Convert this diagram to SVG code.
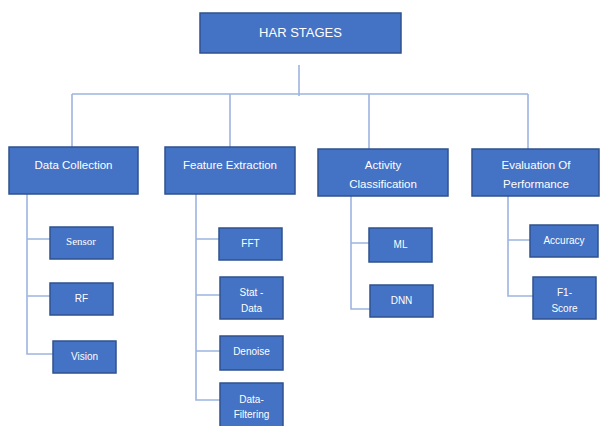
<svg xmlns="http://www.w3.org/2000/svg" width="600" height="426" viewBox="0 0 600 426">
<style>
.box{fill:#4472C4;stroke:#2F528F;stroke-width:1.5}
.t{fill:#fff;font-family:"Liberation Sans",Arial,sans-serif;text-anchor:middle;dominant-baseline:central}
.h{font-size:11.5px}
.c{font-size:10px}
.s{font-family:"Liberation Serif","Times New Roman",serif;font-size:11px}
.ln{stroke:#9DB5E0;stroke-width:1.6;fill:none}
</style>
<rect width="600" height="426" fill="#fff"/>
<g id="connectors">
<path class="ln" d="M299 65V96M72 94H528M72 94V147M230 94V147M369 94V149M528 94V149"/>
<path class="ln" d="M27 194V354H53M27 239H50M27 296H50"/>
<path class="ln" d="M196 194V400H220M196 239H219M196 295H220M196 351H220"/>
<path class="ln" d="M351 196V309H370M351 243H369"/>
<path class="ln" d="M508 196V296H533M508 240H530"/>
</g>
<g id="har"><rect class="box" x="200" y="13" width="201" height="40"/><text class="t" x="300.5" y="32" font-size="13">HAR STAGES</text></g>
<g id="data-collection"><rect class="box" x="9" y="147" width="129" height="47"/><text class="t h" x="73.5" y="165">Data Collection</text></g>
<g id="feature-extraction"><rect class="box" x="165" y="147" width="130" height="47"/><text class="t h" x="230" y="165">Feature Extraction</text></g>
<g id="activity-classification"><rect class="box" x="318" y="149" width="130" height="47"/><text class="t h" x="383" y="165">Activity</text><text class="t h" x="383" y="184">Classification</text></g>
<g id="evaluation"><rect class="box" x="472" y="149" width="127" height="47"/><text class="t h" x="536" y="165">Evaluation Of</text><text class="t h" x="536" y="184">Performance</text></g>
<g id="sensor"><rect class="box" x="50" y="227" width="63" height="32"/><text class="t s" x="81" y="241">Sensor</text></g>
<g id="rf"><rect class="box" x="50" y="283" width="63" height="32"/><text class="t c" x="81.5" y="298">RF</text></g>
<g id="vision"><rect class="box" x="53" y="341" width="63" height="32"/><text class="t c" x="84.5" y="356">Vision</text></g>
<g id="fft"><rect class="box" x="219" y="228" width="63" height="32"/><text class="t c" x="250.5" y="243">FFT</text></g>
<g id="stat-data"><rect class="box" x="220" y="277" width="63" height="42"/><text class="t c" x="251.5" y="292">Stat -</text><text class="t c" x="251.5" y="308">Data</text></g>
<g id="denoise"><rect class="box" x="220" y="336" width="63" height="34"/><text class="t c" x="251.5" y="351">Denoise</text></g>
<g id="data-filtering"><rect class="box" x="220" y="383" width="63" height="46"/><text class="t c" x="251.5" y="399">Data-</text><text class="t c" x="251.5" y="414">Filtering</text></g>
<g id="ml"><rect class="box" x="369" y="228" width="63" height="34"/><text class="t c" x="400.5" y="244">ML</text></g>
<g id="dnn"><rect class="box" x="370" y="285" width="63" height="32"/><text class="t c" x="401.5" y="300">DNN</text></g>
<g id="accuracy"><rect class="box" x="530" y="225" width="68" height="32"/><text class="t c" x="564" y="240">Accuracy</text></g>
<g id="f1-score"><rect class="box" x="533" y="277" width="63" height="42"/><text class="t c" x="564.5" y="292">F1-</text><text class="t c" x="564.5" y="308">Score</text></g>
</svg>
